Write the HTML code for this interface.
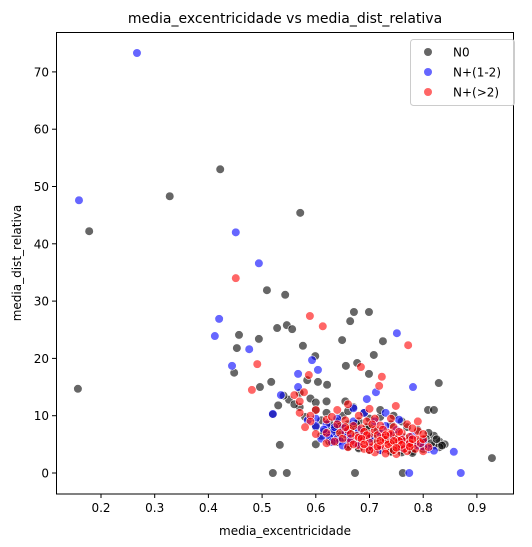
<!DOCTYPE html>
<html><head><meta charset="utf-8">
<style>
html,body{margin:0;padding:0;background:#fff;}
svg{display:block;font-family:"DejaVu Sans","Liberation Sans",sans-serif;}
</style></head>
<body>
<svg id="chart" width="532" height="547" viewBox="0 0 532 547" xmlns="http://www.w3.org/2000/svg">
<rect x="0" y="0" width="532" height="547" fill="#fff"/>
<text x="285" y="23" font-size="14" text-anchor="middle" fill="#000">media_excentricidade vs media_dist_relativa</text>
<g id="points"></g>
<rect x="56.5" y="32.5" width="457" height="461.5" fill="none" stroke="#000" stroke-width="1"/>
<g id="xticks"></g>
<g id="yticks"></g>
<text x="285" y="535" font-size="12" text-anchor="middle">media_excentricidade</text>
<text transform="translate(21,263) rotate(-90)" font-size="12" text-anchor="middle">media_dist_relativa</text>
<g>
<rect x="410.5" y="39.5" width="104" height="66" rx="3" fill="#fff" fill-opacity="0.8" stroke="#ccc"/>
<circle cx="428" cy="52" r="4" fill="#666"/>
<text x="453" y="56.5" font-size="12">N0</text>
<circle cx="428" cy="72" r="4" fill="#6666ff"/>
<text x="453" y="76.5" font-size="12">N+(1-2)</text>
<circle cx="428" cy="92" r="4" fill="#ff6666"/>
<text x="453" y="96.5" font-size="12">N+(&gt;2)</text>
</g>
</svg>
<script>
const xTicks=[0.2,0.3,0.4,0.5,0.6,0.7,0.8,0.9];
const yTicks=[0,10,20,30,40,50,60,70];
const n0X=[0.157,0.178,0.328,0.422,0.571,0.509,0.543,0.528,0.546,0.556,0.671,0.699,0.664,0.457,0.494,0.453,0.576,0.649,0.725,0.599,0.708,0.448,0.656,0.677,0.699,0.584,0.604,0.621,0.496,0.517,0.829,0.52,0.546,0.673,0.762,0.928,0.533,0.809,0.82,0.58,0.6,0.61,0.62,0.57,0.55,0.56,0.59,0.6,0.62,0.64,0.65,0.63,0.625,0.6,0.83,0.84,0.83,0.82,0.81,0.8,0.78,0.76,0.74,0.7,0.68,0.66,0.66,0.68,0.7,0.72,0.74,0.79,0.77,0.76,0.69,0.67,0.72,0.745,0.63,0.64,0.65,0.67,0.69,0.71,0.73,0.75,0.57,0.54,0.6,0.655,0.66,0.7,0.8,0.82,0.52,0.53,0.61,0.615,0.625,0.635,0.645,0.655,0.665,0.675,0.685,0.695,0.705,0.715,0.725,0.735,0.745,0.755,0.765,0.775,0.785,0.795,0.805,0.815,0.825,0.835,0.64,0.66,0.68,0.7,0.72,0.74,0.76,0.78];
const n0Y=[14.7,42.2,48.3,53.0,45.4,31.9,31.1,25.3,25.8,25.1,28.1,28.1,26.5,24.1,23.4,21.8,22.2,23.2,23.0,20.4,20.6,17.5,18.7,19.2,17.3,16.2,15.9,15.4,15.0,15.9,15.7,0,0,0,0,2.6,4.9,11.0,11.0,9.8,8.0,6.5,10.5,11.5,12.8,12.0,13,11,12.5,9,10,6,5.5,5,5.5,5,4.5,6.5,7,4.2,3.8,4,3.8,4.2,4.5,5,8.5,9,9.5,9.8,8.5,7.5,8,9,10.5,11.5,11,10,8,7,6,7,6,5.5,6,5,14,13.5,12.3,12.5,10.8,8,5.8,4.8,10.2,11.8,9.2,7.2,8.8,7.6,8.2,6.8,7.8,8.6,7.0,8.0,6.4,7.4,6.0,5.6,6.6,5.4,6.2,5.8,5.0,5.6,6.0,5.2,5.9,4.8,5.4,4.6,4.3,4.0,3.9,3.7,3.6,3.5];
const n12X=[0.267,0.159,0.451,0.494,0.42,0.412,0.476,0.444,0.593,0.604,0.567,0.567,0.535,0.712,0.781,0.751,0.774,0.87,0.857,0.52,0.6,0.62,0.63,0.64,0.65,0.66,0.67,0.68,0.69,0.7,0.71,0.72,0.73,0.74,0.75,0.76,0.77,0.78,0.79,0.8,0.81,0.82,0.64,0.66,0.68,0.7,0.62,0.6,0.67,0.695,0.73,0.755,0.585,0.615,0.625,0.635,0.645,0.655,0.665,0.675,0.685,0.72,0.76,0.8,0.61,0.63,0.65];
const n12Y=[73.3,47.6,42.0,36.6,26.9,23.9,21.6,18.7,19.7,18.0,17.3,15.0,13.6,14.1,15.0,24.4,0,0,3.7,10.3,9.5,8.5,7,9.5,8,6.5,9,7.5,10.5,6,9,7,8.2,6.5,7.5,6,5,6.5,4.8,5.5,4.2,3.9,6,5.5,5,4.5,6.8,8.2,11.3,12.9,10.5,9.3,9.2,7.6,6.2,8.0,5.6,7.2,6.0,5.2,6.4,4.0,4.4,4.6,6.0,5.4,4.8];
const n2X=[0.451,0.589,0.613,0.772,0.491,0.684,0.723,0.587,0.718,0.481,0.578,0.749,0.56,0.57,0.6,0.59,0.62,0.64,0.645,0.65,0.655,0.66,0.665,0.67,0.675,0.68,0.685,0.69,0.695,0.7,0.705,0.71,0.715,0.72,0.725,0.73,0.735,0.74,0.745,0.75,0.755,0.76,0.765,0.77,0.775,0.78,0.785,0.79,0.795,0.8,0.69,0.71,0.73,0.75,0.7,0.72,0.74,0.76,0.68,0.66,0.635,0.62,0.63,0.68,0.71,0.74,0.77,0.79,0.8,0.81,0.73,0.755,0.705,0.665,0.715,0.735,0.765,0.78,0.69,0.655,0.62,0.6,0.59,0.58,0.57,0.64,0.66,0.7,0.79,0.8,0.745,0.725,0.775,0.695,0.755,0.67,0.685,0.7,0.715,0.73,0.745,0.76,0.775,0.69,0.72,0.75,0.78];
const n2Y=[34.0,27.4,25.6,22.3,19.0,18.5,16.8,17.1,15.2,14.5,14.1,11.7,13.6,12.5,11,10,9.3,8.5,7,6,9.2,7.5,5.5,8.2,6.5,4.8,7.8,5.8,9,6.8,4.5,7.5,5.5,8.3,6.2,4.2,7,5.2,8,6.2,4.5,7,5.5,3.8,6.3,5,4.2,6,5.2,3.8,4.2,3.6,3.4,3.3,5.3,4.8,6.8,5.8,6.2,4.5,5.5,7,9.8,10,9.5,9.5,8.5,7.3,5.9,4.5,5.8,7.2,8.5,6.8,6.6,5,4.2,7.8,7.2,8,5.2,6.8,9,8,10.5,11,12,11.2,9,6.8,4,7.6,5.2,6.6,5.6,5.0,6.0,4.0,4.6,6.6,5.6,4.9,4.6,5.0,5.6,4.4,5.9];

const NS='http://www.w3.org/2000/svg';
function xs(v){return 101+(v-0.2)*537;}
function ys(v){return 473-v*5.73;}
const pg=document.getElementById('points');
function drawSeries(X,Y,color,name){
  for(let i=0;i<X.length;i++){
    const c=document.createElementNS(NS,'circle');
    c.setAttribute('cx',xs(X[i]));c.setAttribute('cy',ys(Y[i]));c.setAttribute('r',4.3);
    c.setAttribute('fill',color);c.setAttribute('fill-opacity','0.6');
    c.setAttribute('stroke','#fff');c.setAttribute('stroke-width','0.6');
    
    
    pg.appendChild(c);
  }
}
drawSeries(n0X,n0Y,'#000','point-n0');
drawSeries(n12X,n12Y,'#0000ff','point-n-1-2');
drawSeries(n2X,n2Y,'#ff0000','point-n-gt2');

const xg=document.getElementById('xticks');
xTicks.forEach(t=>{
  const g=document.createElementNS(NS,'g');
  
  
  const x=xs(t);
  g.innerHTML='<line x1="'+x+'" x2="'+x+'" y1="494" y2="498" stroke="#000"/><text x="'+x+'" y="512" font-size="12" text-anchor="middle">'+t.toFixed(1)+'</text>';
  xg.appendChild(g);
});
const yg=document.getElementById('yticks');
yTicks.forEach(t=>{
  const g=document.createElementNS(NS,'g');
  
  
  const y=ys(t);
  g.innerHTML='<line x1="52" x2="56" y1="'+y+'" y2="'+y+'" stroke="#000"/><text x="49" y="'+(y+4.5)+'" font-size="12" text-anchor="end">'+t+'</text>';
  yg.appendChild(g);
});
</script>
</body></html>
